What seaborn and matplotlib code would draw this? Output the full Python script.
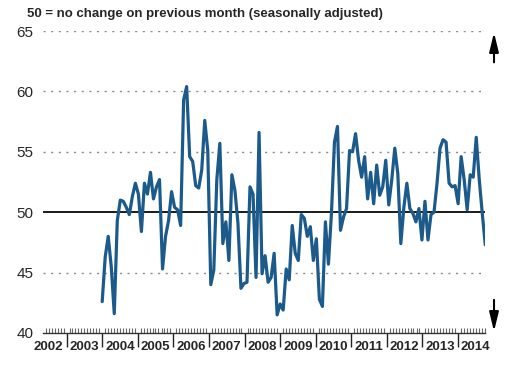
import pandas as pd
import matplotlib.pyplot as plt
import matplotlib.dates as mdates
import seaborn as sns

# Monthly index values, Jan 2004 .. late 2014
pmi = [
    42.6, 46.3, 48.0, 45.5, 41.6, 49.3, 51.0, 50.9, 50.4, 49.8, 51.3, 52.4,
    51.5, 48.4, 52.4, 51.5, 53.3, 51.1, 52.1, 52.7, 45.3, 48.0, 49.3, 51.7,
    50.4, 50.2, 48.9, 59.3, 60.4, 54.6, 54.2, 52.2, 52.0, 53.5, 57.6, 55.1,
    44.0, 45.2, 52.7, 55.7, 47.4, 49.2, 46.0, 53.1, 51.8, 49.1, 43.7, 44.1,
    44.2, 52.1, 51.5, 44.6, 56.6, 44.9, 46.4, 44.2, 44.6, 46.6, 41.5, 42.4,
    41.9, 45.3, 44.4, 48.9, 46.6, 46.0, 49.8, 49.5, 48.0, 48.8, 46.0, 47.8,
    42.8, 42.2, 49.2, 45.7, 49.9, 55.8, 57.1, 48.5, 49.6, 50.3, 55.1, 55.0,
    56.5, 54.3, 52.9, 54.6, 51.1, 53.3, 50.7, 53.9, 51.4, 52.1, 54.3, 50.6,
    52.7, 55.3, 53.2, 47.4, 50.4, 52.4, 50.3, 49.9, 49.2, 50.3, 47.7, 50.9,
    47.7, 49.8, 50.0, 52.4, 55.3, 56.0, 55.8, 52.4, 52.1, 52.2, 50.7, 54.6,
    52.7, 50.2, 53.1, 52.9, 56.2, 52.7, 49.9, 47.3,
]
years = list(range(2002, 2015))
y_ticks = [40, 45, 50, 55, 60, 65]
title = "50 = no change on previous month (seasonally adjusted)"

dates = pd.date_range("2004-01-01", "2014-10-08", periods=len(pmi))
df = pd.DataFrame({"date": dates, "pmi": pmi})

sns.set_style("white")
plt.rcParams["font.family"] = ["Liberation Sans", "DejaVu Sans"]

fig = plt.figure(figsize=(5.11, 3.66), dpi=100)
ax = fig.add_axes([0.0841, 0.0902, 0.865, 0.8251])

# gridlines and the 50 reference line
for v in [45, 55, 60, 65]:
    ax.axhline(v, color="#8c8c8c", lw=1.0, ls=(0, (1.5, 4)), zorder=1)
ax.axhline(50, color="#1a1a1a", lw=1.4, zorder=2)

sns.lineplot(data=df, x="date", y="pmi", ax=ax, color="#1b5a8a", lw=2.3, zorder=3)

ax.set_ylim(40, 65)
ax.set_xlim(pd.Timestamp("2002-05-03"), pd.Timestamp("2014-10-05"))
ax.set_yticks(y_ticks)
ax.set_yticklabels([str(t) for t in y_ticks], fontsize=11)
ax.tick_params(axis="y", length=0, pad=7)
ax.set_xlabel("")
ax.set_ylabel("")

for s in ["left", "right", "top"]:
    ax.spines[s].set_visible(False)
ax.spines["bottom"].set_color("#333333")
ax.spines["bottom"].set_linewidth(1.0)

# year boundaries outside, months inside
ax.xaxis.set_major_locator(mdates.YearLocator())
ax.xaxis.set_minor_locator(mdates.MonthLocator(bymonth=range(2, 13)))
ax.xaxis.set_major_formatter(plt.NullFormatter())
ax.tick_params(axis="x", which="both", bottom=True, top=False)
ax.tick_params(axis="x", which="major", direction="out", length=10,
               width=1.0, color="#222222")
ax.tick_params(axis="x", which="minor", direction="in", length=3.5,
               width=0.8, color="#666666")

for yr in years:
    ax.text(pd.Timestamp(f"{yr}-07-01"), -0.025, str(yr),
            transform=ax.get_xaxis_transform(), ha="center", va="top",
            fontsize=9.5, fontweight="bold")

# arrows on the right
arrow = dict(arrowstyle="-|>,head_length=1.15,head_width=0.28",
             color="black", lw=1.5, mutation_scale=10)
ax.annotate("", xy=(1.0204, 1.004), xytext=(1.0204, 0.887),
            xycoords="axes fraction", arrowprops=arrow, annotation_clip=False)
ax.annotate("", xy=(1.0204, -0.004), xytext=(1.0204, 0.119),
            xycoords="axes fraction", arrowprops=arrow, annotation_clip=False)

fig.text(0.053, 0.962, title, fontsize=9.5, fontweight="bold",
         ha="left", va="center")

fig.savefig("out.png", dpi=100)
